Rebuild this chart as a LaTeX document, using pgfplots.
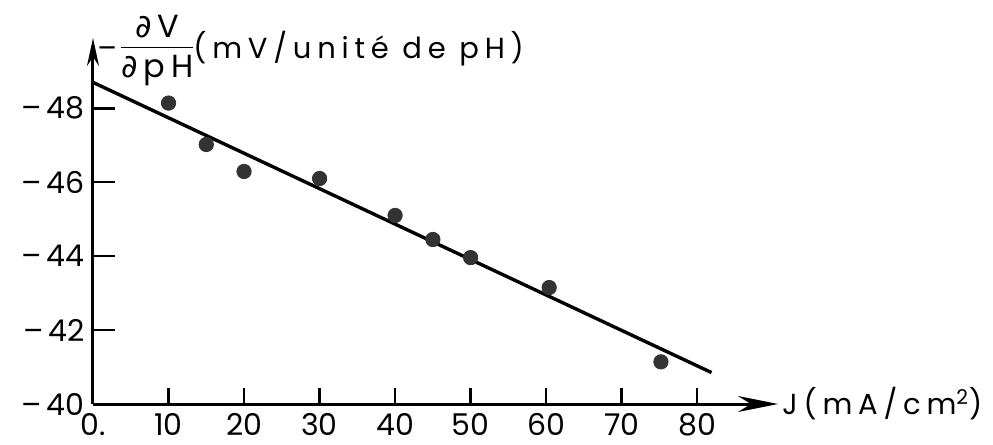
\documentclass[border=0pt]{standalone}
\usepackage{fontspec}
\setmainfont{Poppins}
\newfontfamily\lbl[LetterSpace=20]{Poppins}
\newfontfamily\dejavu{DejaVu Sans}
\usepackage{pgfplots}
\pgfplotsset{compat=1.18}
\usetikzlibrary{arrows.meta}

\begin{document}
\begin{tikzpicture}
\begin{axis}[
    scale only axis,
    width=342.5pt, height=183pt,
    xmin=0, xmax=90.7,
    ymin=-49.9, ymax=-40,
    y dir=reverse,
    axis lines=left,
    x axis line style={line width=1.5pt, -{Stealth[length=20pt,width=8pt]}},
    y axis line style={line width=1.5pt, {Stealth[length=14pt,width=6pt]}-},
    clip=false,
    xtick={0,10,...,80},
    xticklabels={0.,10,20,30,40,50,60,70,80},
    ytick={-48,-46,-44,-42,-40},
    yticklabels={–\,48,–\,46,–\,44,–\,42,–\,40},
    tick align=inside,
    tick style={line width=1.3pt, black},
    xtick style={/pgfplots/major tick length=8pt},
    ytick style={/pgfplots/major tick length=11pt},
    tick label style={font=\fontsize{15}{18}\selectfont, inner sep=1pt},
    xticklabel style={yshift=-3.5pt},
    yticklabel style={xshift=-3pt},
]
  % measured points
  \addplot[only marks, mark=*, mark size=3.6pt, color=black!80] coordinates {
    (10,-48.14) (15,-47.02) (20,-46.29) (30,-46.10) (40,-45.10)
    (45,-44.45) (50,-43.96) (60.4,-43.15) (75.2,-41.14)};
  % fitted line
  \addplot[black, line width=1.7pt] coordinates {(0,-48.70) (81.9,-40.85)};

  \node[anchor=west, font=\fontsize{14.5}{17}\selectfont\lbl, inner sep=0pt]
    at (axis cs:0,-49.9) [xshift=2pt, yshift=-6pt]
    {–\hspace{2pt}{\fontsize{16}{18}\selectfont\renewcommand{\arraystretch}{1.05}%
     \begin{tabular}{@{}c@{}}{\dejavu ∂}\hspace{3pt}V\\[-1pt]\hline\noalign{\vskip2pt}{\dejavu ∂}\hspace{3pt}p\hspace{3pt}H\end{tabular}}(mV/unité de pH)};
  \node[anchor=west, font=\fontsize{14.5}{17}\selectfont\lbl, inner sep=0pt]
    at (axis cs:90.7,-40) [xshift=2pt]
    {J(mA/cm\textsuperscript{2})};
\end{axis}
\pgfresetboundingbox
\path[use as bounding box] (-46.5pt,-20.5pt) rectangle (450pt,202pt);
\end{tikzpicture}
\end{document}
